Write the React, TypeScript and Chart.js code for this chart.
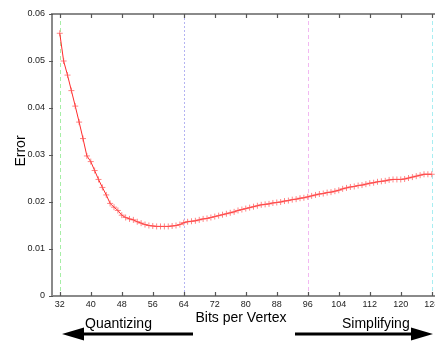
import React, { useEffect, useRef } from "react";
import { Chart, registerables } from "chart.js";

Chart.register(...registerables);

const bitsPerVertex = [
  32, 33, 34, 35, 36, 37, 38, 39, 40, 41, 42, 43, 44, 45, 46, 47, 48, 49, 50, 51,
  52, 53, 54, 55, 56, 57, 58, 59, 60, 61, 62, 63, 64, 65, 66, 67, 68, 69, 70, 71,
  72, 73, 74, 75, 76, 77, 78, 79, 80, 81, 82, 83, 84, 85, 86, 87, 88, 89, 90, 91,
  92, 93, 94, 95, 96, 97, 98, 99, 100, 101, 102, 103, 104, 105, 106, 107, 108, 109, 110, 111,
  112, 113, 114, 115, 116, 117, 118, 119, 120, 121, 122, 123, 124, 125, 126, 127, 128,
];

const errorValues = [
  0.0559, 0.05, 0.047, 0.0437, 0.0404, 0.037, 0.0335, 0.0298, 0.0286, 0.0267,
  0.0248, 0.0231, 0.0215, 0.0197, 0.0189, 0.0182, 0.0172, 0.0167, 0.0164, 0.0162,
  0.0158, 0.0155, 0.0152, 0.015, 0.0149, 0.0148, 0.0148, 0.0148, 0.0148, 0.0149,
  0.015, 0.0152, 0.0156, 0.0158, 0.0159, 0.016, 0.0162, 0.0164, 0.0165, 0.0167,
  0.0169, 0.0171, 0.0173, 0.0175, 0.0177, 0.0179, 0.0182, 0.0184, 0.0186, 0.0188,
  0.019, 0.0192, 0.0194, 0.0195, 0.0196, 0.0198, 0.0199, 0.02, 0.0202, 0.0203,
  0.0205, 0.0206, 0.0208, 0.0209, 0.0211, 0.0213, 0.0215, 0.0217, 0.0218, 0.022,
  0.0221, 0.0223, 0.0225, 0.0228, 0.023, 0.0232, 0.0233, 0.0235, 0.0236, 0.0238,
  0.024, 0.0241, 0.0243, 0.0244, 0.0245, 0.0247, 0.0248, 0.0248, 0.0248, 0.0249,
  0.0251, 0.0253, 0.0255, 0.0257, 0.0259, 0.0259, 0.0259,
];

const xTickValues = [32, 40, 48, 56, 64, 72, 80, 88, 96, 104, 112, 120, 128];
const yTickValues = [0, 0.01, 0.02, 0.03, 0.04, 0.05, 0.06];
const yTickLabels = ["0", "0.01", "0.02", "0.03", "0.04", "0.05", "0.06"];
const guideValues = [32, 64, 96, 128];

const yAxisTitle = "Error";
const xAxisTitle = "Bits per Vertex";
const leftNote = "Quantizing";
const rightNote = "Simplifying";

const guideColors = ["#a6eea6", "#b4b4f2", "#f2b8f2", "#a8eef2"];
const guideDashes = [[4, 3], [2, 2], [4, 3], [4, 3]];

const decorPlugin = {
  id: "decor",
  beforeDatasetsDraw(chart: any) {
    const { ctx, chartArea, scales } = chart;
    ctx.save();
    guideValues.forEach((v, i) => {
      const x = Math.round(scales.x.getPixelForValue(v)) + 0.5;
      ctx.strokeStyle = guideColors[i];
      ctx.lineWidth = 1;
      ctx.setLineDash(guideDashes[i]);
      ctx.beginPath();
      ctx.moveTo(x, chartArea.top);
      ctx.lineTo(x, chartArea.bottom);
      ctx.stroke();
    });
    ctx.restore();
  },
  afterDatasetsDraw(chart: any) {
    const { ctx, chartArea, scales } = chart;
    const { left, right, top, bottom } = chartArea;
    ctx.save();
    ctx.strokeStyle = "#8a8a8a";
    ctx.lineWidth = 2;
    ctx.setLineDash([]);
    ctx.strokeRect(left, top, right - left, bottom - top);
    ctx.strokeStyle = "#555";
    ctx.lineWidth = 1.2;
    xTickValues.forEach((v) => {
      const x = Math.round(scales.x.getPixelForValue(v)) + 0.5;
      ctx.beginPath();
      ctx.moveTo(x, bottom);
      ctx.lineTo(x, bottom - 4);
      ctx.moveTo(x, top);
      ctx.lineTo(x, top + 4);
      ctx.stroke();
    });
    yTickValues.forEach((v) => {
      const y = Math.round(scales.y.getPixelForValue(v)) + 0.5;
      ctx.beginPath();
      ctx.moveTo(left - 3, y);
      ctx.lineTo(left + 1, y);
      ctx.moveTo(right, y);
      ctx.lineTo(right - 4, y);
      ctx.stroke();
    });
    ctx.fillStyle = "#000";
    ctx.font = '14px "Liberation Sans", Arial, sans-serif';
    ctx.textBaseline = "alphabetic";
    ctx.save();
    ctx.translate(25, 151);
    ctx.rotate(-Math.PI / 2);
    ctx.textAlign = "center";
    ctx.fillText(yAxisTitle, 0, 0);
    ctx.restore();
    ctx.textAlign = "center";
    ctx.fillText(xAxisTitle, 241, 322);
    ctx.textAlign = "left";
    ctx.fillText(leftNote, 85, 328);
    ctx.fillText(rightNote, 342, 328);
    ctx.strokeStyle = "#000";
    ctx.lineWidth = 3;
    ctx.beginPath();
    ctx.moveTo(80, 334);
    ctx.lineTo(193, 334);
    ctx.moveTo(295, 334);
    ctx.lineTo(414, 334);
    ctx.stroke();
    ctx.beginPath();
    ctx.moveTo(62, 334);
    ctx.lineTo(84, 327.5);
    ctx.lineTo(84, 340.5);
    ctx.closePath();
    ctx.moveTo(433, 334);
    ctx.lineTo(411, 327.5);
    ctx.lineTo(411, 340.5);
    ctx.closePath();
    ctx.fillStyle = "#000";
    ctx.fill();
    ctx.restore();
  },
};

export default function App() {
  const canvasRef = useRef<HTMLCanvasElement | null>(null);

  useEffect(() => {
    if (!canvasRef.current) return;
    const tickFont = { family: '"Liberation Sans", Arial, sans-serif', size: 9 };
    const chart = new Chart(canvasRef.current, {
      type: "line",
      data: {
        datasets: [
          {
            data: bitsPerVertex.map((b, i) => ({ x: b, y: errorValues[i] })),
            borderColor: "#ff2a2a",
            borderWidth: 1,
            pointStyle: "cross",
            pointRadius: 3,
            pointBorderWidth: 1,
            pointBorderColor: "rgba(255,80,80,0.7)",
            pointBackgroundColor: "rgba(255,80,80,0.7)",
            tension: 0,
            fill: false,
          },
        ],
      },
      options: {
        responsive: false,
        animation: false,
        devicePixelRatio: 1,
        layout: { padding: { left: 0, top: 14, right: 30.5, bottom: 0 } },
        plugins: { legend: { display: false }, tooltip: { enabled: false } },
        scales: {
          x: {
            type: "linear",
            min: 30,
            max: 130,
            grid: { display: false, drawTicks: false },
            border: { display: false },
            ticks: {
              padding: 3,
              font: tickFont,
              color: "#222",
              autoSkip: false,
              maxRotation: 0,
              callback: (v: any) => String(v),
            },
            afterBuildTicks: (s: any) => {
              s.ticks = xTickValues.map((v) => ({ value: v }));
            },
            afterFit: (s: any) => {
              s.height = 45;
            },
          },
          y: {
            type: "linear",
            min: 0,
            max: 0.06,
            grid: { display: false, drawTicks: false },
            border: { display: false },
            ticks: {
              padding: 7,
              font: tickFont,
              color: "#222",
              autoSkip: false,
              callback: (_v: any, i: number) => yTickLabels[i],
            },
            afterBuildTicks: (s: any) => {
              s.ticks = yTickValues.map((v) => ({ value: v }));
            },
            afterFit: (s: any) => {
              s.width = 52;
            },
          },
        },
      },
      plugins: [decorPlugin],
    });
    return () => chart.destroy();
  }, []);

  return (
    <div
      style={{
        position: "fixed",
        left: 0,
        top: 0,
        width: 435,
        height: 341,
        overflow: "hidden",
        background: "#fff",
      }}
    >
      <canvas ref={canvasRef} width={470} height={341} style={{ display: "block" }} />
    </div>
  );
}
